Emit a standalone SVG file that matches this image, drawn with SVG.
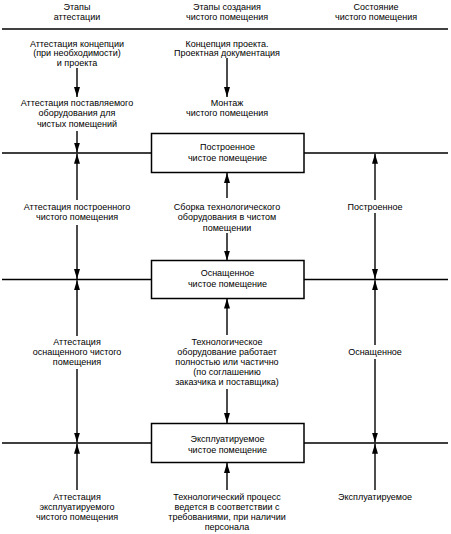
<svg xmlns="http://www.w3.org/2000/svg" width="451" height="534" viewBox="0 0 451 534">
<defs>
<marker id="ah" viewBox="0 0 10 6" refX="10" refY="3" markerWidth="10" markerHeight="6" markerUnits="userSpaceOnUse" orient="auto">
<path d="M0,0 L10,3 L0,6 Z" fill="#000"/>
</marker>
<style>
text{font-family:"Liberation Sans",Arial,sans-serif;font-size:9px;fill:#000;text-anchor:middle}
.ln{stroke:#000;stroke-width:1.4;fill:none}
.ar{stroke:#000;stroke-width:1.4;fill:none;marker-end:url(#ah)}
.box{stroke:#000;stroke-width:1.5;fill:#fff}
</style>
</defs>
<rect width="451" height="534" fill="#fff"/>
<g id="headers">
<text x="77" y="10">Этапы</text>
<text x="77" y="19.5">аттестации</text>
<text x="227" y="10">Этапы создания</text>
<text x="227" y="19.5">чистого помещения</text>
<text x="376" y="10">Состояние</text>
<text x="376" y="19.5">чистого помещения</text>
</g>
<g id="connectors">
<path class="ln" d="M2,29 H448"/>
<path class="ln" d="M2,153 H151 M304,153 H448"/>
<path class="ln" d="M2,279.5 H151 M304,279.5 H448"/>
<path class="ln" d="M2,443 H151 M304,443 H448"/>
<path class="ar" d="M77,68 V97"/>
<path class="ar" d="M77,131 V152.5"/>
<path class="ar" d="M77,200 V153.8"/>
<path class="ar" d="M77,225 V279"/>
<path class="ar" d="M77,336 V280.3"/>
<path class="ar" d="M77,369 V442.5"/>
<path class="ar" d="M77,490 V443.8"/>
<path class="ar" d="M227,58 V97"/>
<path class="ar" d="M227,198 V173"/>
<path class="ar" d="M227,233 V260.5"/>
<path class="ar" d="M227,335 V298.5"/>
<path class="ar" d="M227,389 V423"/>
<path class="ar" d="M227,490 V463"/>
<path class="ar" d="M375,200 V153.8"/>
<path class="ar" d="M375,213 V279"/>
<path class="ar" d="M375,345 V280.3"/>
<path class="ar" d="M375,359 V442.5"/>
<path class="ar" d="M375,490 V443.8"/>
</g>
<g id="n-att-concept">
<text x="77" y="46.5">Аттестация концепции</text>
<text x="77" y="56">(при необходимости)</text>
<text x="77" y="65.5">и проекта</text>
</g>
<g id="n-att-equip">
<text x="77" y="106">Аттестация поставляемого</text>
<text x="77" y="116.3">оборудования для</text>
<text x="77" y="126.6">чистых помещений</text>
</g>
<g id="n-concept">
<text x="227" y="46.5">Концепция проекта.</text>
<text x="227" y="56">Проектная документация</text>
</g>
<g id="n-montage">
<text x="227" y="106">Монтаж</text>
<text x="227" y="116.3">чистого помещения</text>
</g>
<g id="n-built">
<rect class="box" x="151.5" y="133.5" width="152.5" height="39"/>
<text x="227.5" y="149.5">Построенное</text>
<text x="227.5" y="160.5">чистое помещение</text>
</g>
<g id="n-att-built">
<text x="77" y="210">Аттестация построенного</text>
<text x="77" y="220.3">чистого помещения</text>
</g>
<g id="n-assembly">
<text x="227" y="210">Сборка технологического</text>
<text x="227" y="220.3">оборудования в чистом</text>
<text x="227" y="230.6">помещении</text>
</g>
<g id="n-state-built">
<text x="375" y="210">Построенное</text>
</g>
<g id="n-equipped">
<rect class="box" x="151.5" y="260.5" width="152.5" height="38"/>
<text x="227.5" y="275.7">Оснащенное</text>
<text x="227.5" y="286.5">чистое помещение</text>
</g>
<g id="n-att-equipped">
<text x="77" y="344.5">Аттестация</text>
<text x="77" y="354.5">оснащенного чистого</text>
<text x="77" y="364.5">помещения</text>
</g>
<g id="n-tech-equip">
<text x="227" y="344.5">Технологическое</text>
<text x="227" y="354.5">оборудование работает</text>
<text x="227" y="364.5">полностью или частично</text>
<text x="227" y="374.5">(по соглашению</text>
<text x="227" y="384.5">заказчика и поставщика)</text>
</g>
<g id="n-state-equipped">
<text x="375" y="354.5">Оснащенное</text>
</g>
<g id="n-operated">
<rect class="box" x="151.5" y="423.5" width="152.5" height="39"/>
<text x="227.5" y="441.7">Эксплуатируемое</text>
<text x="227.5" y="452.7">чистое помещение</text>
</g>
<g id="n-att-operated">
<text x="77" y="500">Аттестация</text>
<text x="77" y="510">эксплуатируемого</text>
<text x="77" y="519.8">чистого помещения</text>
</g>
<g id="n-tech-process">
<text x="227" y="500">Технологический процесс</text>
<text x="227" y="510">ведется в соответствии с</text>
<text x="227" y="519.8">требованиями, при наличии</text>
<text x="227" y="529.6">персонала</text>
</g>
<g id="n-state-operated">
<text x="375" y="500">Эксплуатируемое</text>
</g>
</svg>
